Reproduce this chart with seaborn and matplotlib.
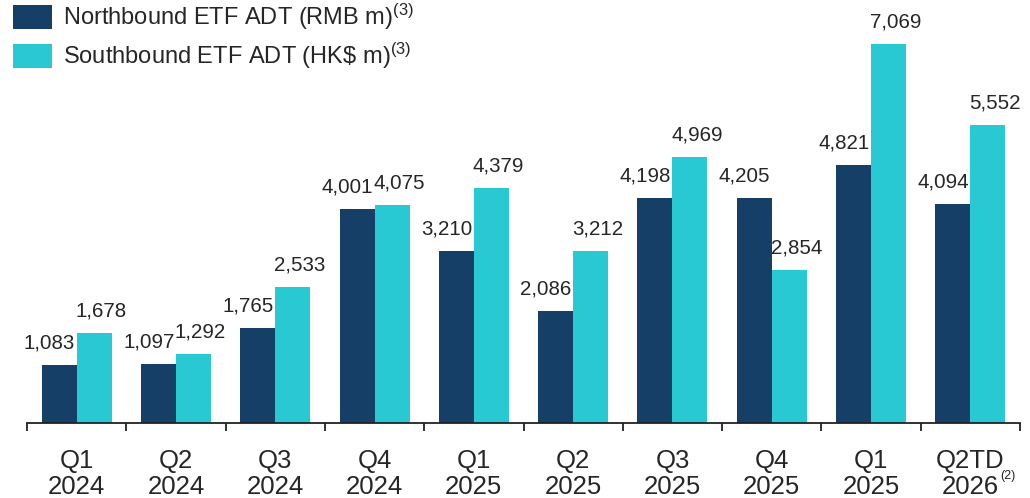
import numpy as np
import pandas as pd
import matplotlib
matplotlib.use('Agg')
import matplotlib.pyplot as plt
import seaborn as sns

quarters = ['Q1\n2024', 'Q2\n2024', 'Q3\n2024', 'Q4\n2024', 'Q1\n2025',
            'Q2\n2025', 'Q3\n2025', 'Q4\n2025', 'Q1\n2025', 'Q2TD\n2026']
northbound = [1083, 1097, 1765, 4001, 3210, 2086, 4198, 4205, 4821, 4094]
southbound = [1678, 1292, 2533, 4075, 4379, 3212, 4969, 2854, 7069, 5552]
series_names = ['Northbound ETF ADT (RMB m)$^{(3)}$', 'Southbound ETF ADT (HK\\$ m)$^{(3)}$']
colors = ['#163F68', '#29C9D3']

sns.set_style('white')
plt.rcParams['font.family'] = ['Liberation Sans', 'DejaVu Sans']
plt.rcParams['mathtext.fontset'] = 'custom'
plt.rcParams['mathtext.rm'] = 'Liberation Sans'
plt.rcParams['mathtext.it'] = 'Liberation Sans'

# seaborn needs unique x categories, so key on position
keys = [str(i) for i in range(len(quarters))]
df = pd.DataFrame({
    'key': keys * 2,
    'value': northbound + southbound,
    'series': [series_names[0]] * len(keys) + [series_names[1]] * len(keys),
})

fig = plt.figure(figsize=(10.3, 4.98), dpi=100)
ax = fig.add_axes([27 / 1030, 75 / 498, 993 / 1030, 423 / 498])
sns.barplot(data=df, x='key', y='value', hue='series', palette=colors,
            width=0.705, saturation=1, linewidth=0, ax=ax, legend=True)

ax.set_ylim(0, 7892)
ax.set_xlim(-0.5, len(quarters) - 0.5)
ax.set_xlabel('')
ax.set_ylabel('')
ax.set_yticks([])
for s in ['top', 'right', 'left']:
    ax.spines[s].set_visible(False)
ax.spines['bottom'].set_color('#222222')
ax.spines['bottom'].set_linewidth(1.3)

# ticks at group boundaries, labels centered
ax.set_xticks(np.arange(len(quarters) + 1) - 0.5)
ax.set_xticklabels([''] * (len(quarters) + 1))
ax.tick_params(axis='x', direction='out', length=6, width=1.3, color='#222222', bottom=True)
for i, q in enumerate(quarters):
    ax.text(i, -0.062, q, transform=ax.get_xaxis_transform(), ha='center', va='top',
            fontsize=18.5, linespacing=1.08)
ax.text(9.3, -0.112, '(2)', transform=ax.get_xaxis_transform(), ha='left', va='top', fontsize=9)

for container, dx in zip(ax.containers, [-7, 5]):
    for bar in container:
        h = bar.get_height()
        ax.annotate(f'{h:,.0f}', (bar.get_x() + bar.get_width() / 2, h),
                    xytext=(dx, 9), textcoords='offset points',
                    ha='center', va='bottom', fontsize=14.8)

leg = ax.legend(loc='upper left', bbox_to_anchor=(-0.035, 1.045), frameon=False,
                fontsize=17, handlelength=1.65, handleheight=1.2, handletextpad=0.45,
                labelspacing=0.35)

fig.savefig('out.png', dpi=100)
